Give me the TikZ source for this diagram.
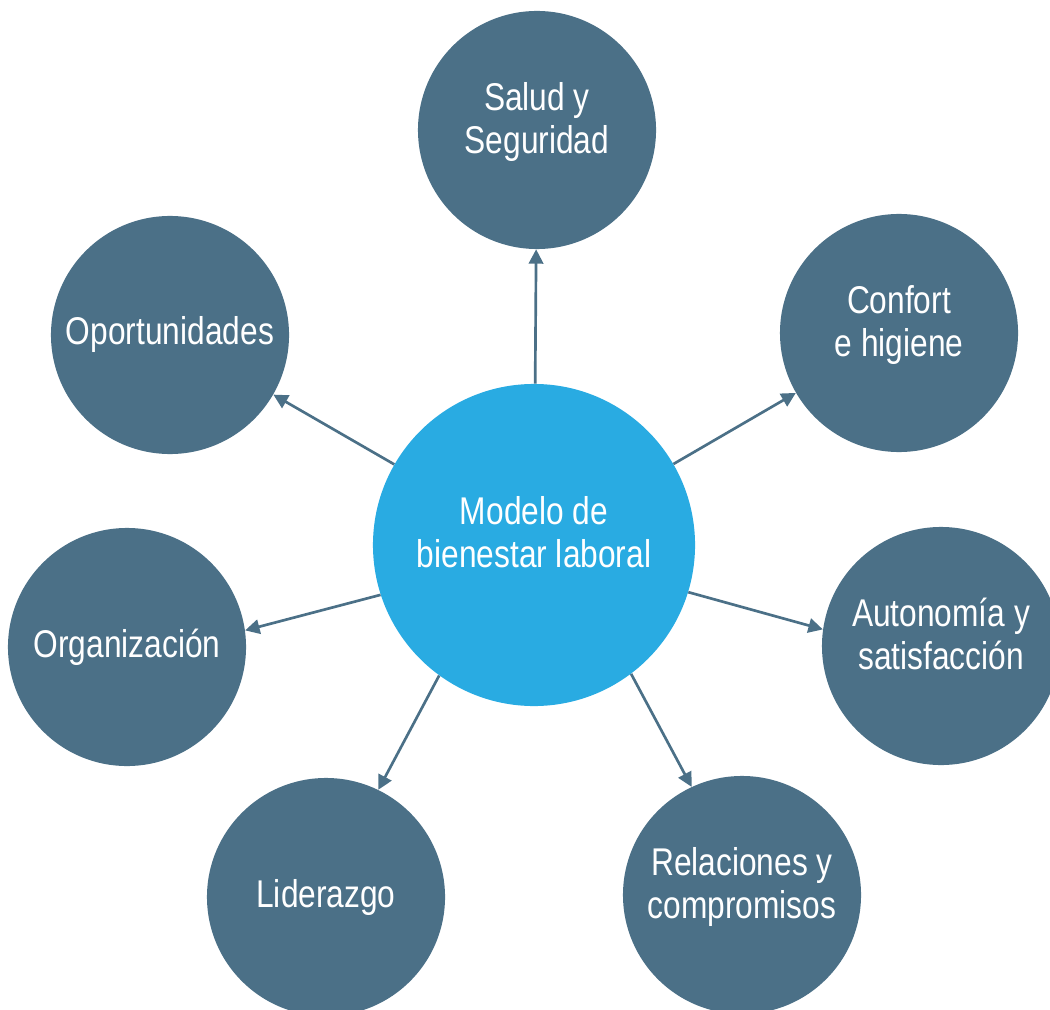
\documentclass[tikz,border=0pt]{standalone}
\usepackage{fontspec}
\newfontfamily\narrowfont{Liberation Sans}[FakeStretch=0.82]
\usetikzlibrary{arrows.meta}
\definecolor{slateblue}{HTML}{4B7087}
\definecolor{skyblue}{HTML}{29ABE2}

\begin{document}
\begin{tikzpicture}[x=0.025cm, y=-0.025cm,
  every node/.style={font=\narrowfont\fontsize{27.5}{30.5}\selectfont, align=center, text=white},
  hub/.style={circle, fill=skyblue, minimum size=8.05cm, inner sep=0pt, text depth=0.65cm},
  topic/.style={circle, fill=slateblue, minimum size=5.95cm, inner sep=0pt},
  pair/.style={topic, text depth=0.6cm},
  link/.style={draw=slateblue, line width=1.9pt, -{Triangle[length=0.36cm, width=0.36cm]}}]
\clip (0,0) rectangle (1050,1010);
\node[hub] (hub) at (534,545) {Modelo de\\bienestar laboral};
\node[pair] (salud) at (537,130) {Salud y\\Seguridad};
\node[pair] (confort) at (899,333) {Confort\\e higiene};
\node[pair] (autonomia) at (941,646) {Autonomía y\\satisfacción};
\node[pair] (relaciones) at (742,895) {Relaciones y\\compromisos};
\node[topic] (liderazgo) at (326,897) {Liderazgo};
\node[topic] (organizacion) at (127,647) {Organización};
\node[topic] (oportunidades) at (170,335) {Oportunidades};
% upper arrows follow the centre lines
\foreach \t in {salud, confort, oportunidades}
  \draw[link] (hub) -- (\t);
% lower arrows fan out a little
\draw[link] (hub.-17) -- (autonomia.172);
\draw[link] (hub.-53) -- (relaciones.115);
\draw[link] (hub.234) -- (liderazgo.64);
\draw[link] (hub.198) -- (organizacion.8);
\end{tikzpicture}
\end{document}
